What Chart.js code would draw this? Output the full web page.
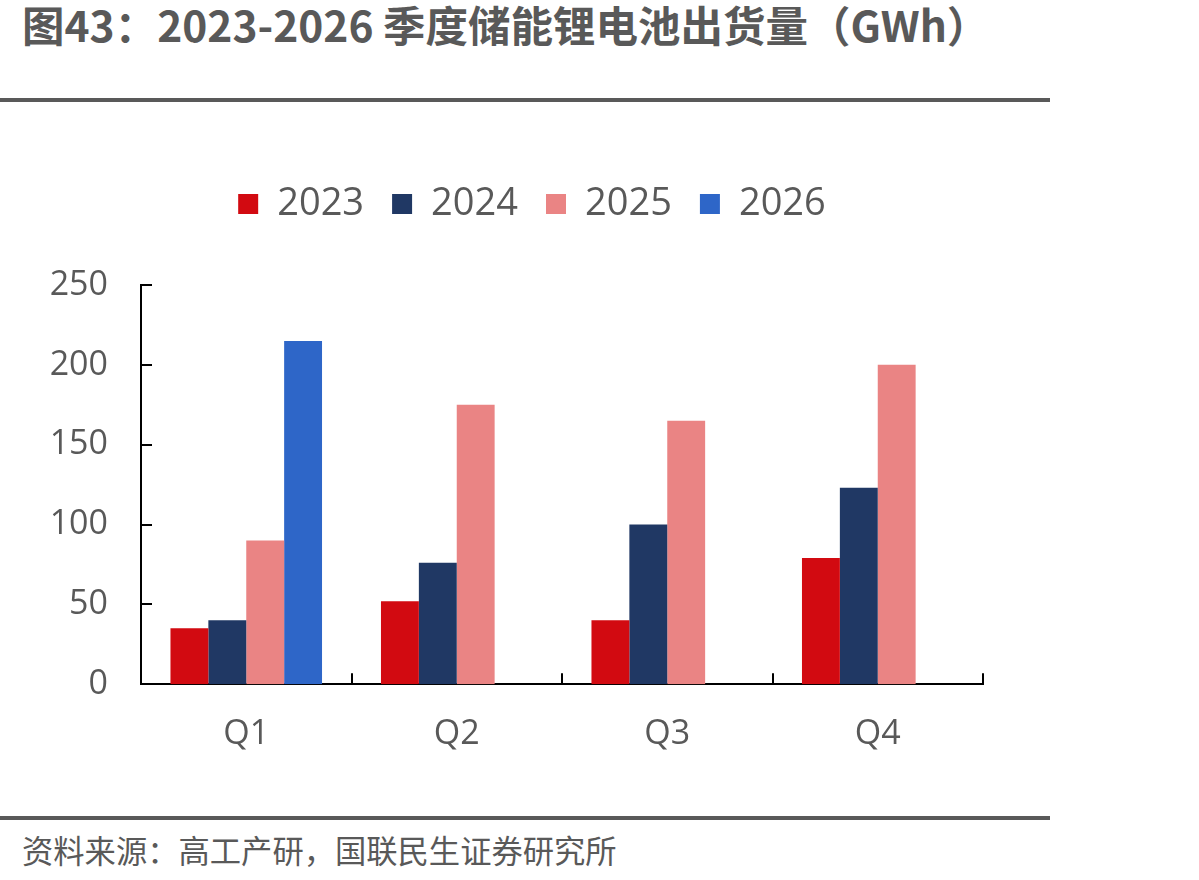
<!DOCTYPE html>
<html>
<head>
<meta charset="utf-8">
<script src="https://cdn.jsdelivr.net/npm/chart.js@4.4.1/dist/chart.umd.min.js"></script>
<style>
  html, body { margin: 0; padding: 0; background: #fff; }
  #page { position: relative; width: 1199px; height: 880px; overflow: hidden; }
  #title {
    position: absolute; left: 22px; top: 3px; line-height: 42px;
    font-family: "Noto Sans CJK SC", sans-serif; font-weight: bold;
    font-size: 42.5px; color: #595959; white-space: nowrap;
  }
  .rule { position: absolute; left: 0; width: 1050px; height: 4px; background: #595959; }
  #source {
    position: absolute; left: 22px; top: 827px;
    font-family: "Noto Sans CJK SC", sans-serif;
    font-size: 31.3px; color: #595959; white-space: nowrap;
  }
  #wrap { position: absolute; left: 0; top: 157px; width: 1060px; height: 620px; }
</style>
</head>
<body>
<div id="page">
  <div id="title">图43：2023-2026 季度储能锂电池出货量（GWh）</div>
  <div class="rule" style="top:98px"></div>
  <div id="wrap"><canvas id="myChart"></canvas></div>
  <div class="rule" style="top:816px"></div>
  <div id="source">资料来源：高工产研，国联民生证券研究所</div>
</div>
<script>
const quarters = ['Q1', 'Q2', 'Q3', 'Q4'];
const years = ['2023', '2024', '2025', '2026'];
const s2023 = [35, 52, 40, 79];
const s2024 = [40, 76, 100, 123];
const s2025 = [90, 175, 165, 200];
const s2026 = [215, null, null, null];
const yTicks = [0, 50, 100, 150, 200, 250];

const colors = ['#D20A11', '#203864', '#EA8484', '#2E66C8'];
const series = [s2023, s2024, s2025, s2026];

// ticks point into the plot area in the original
const innerTicks = {
  id: 'innerTicks',
  afterDatasetsDraw(chart) {
    const ctx = chart.ctx;
    const x = chart.scales.x, y = chart.scales.y;
    const area = chart.chartArea;
    ctx.save();
    ctx.strokeStyle = '#000';
    ctx.lineWidth = 2;
    ctx.beginPath();
    y.ticks.forEach(t => {
      const py = Math.round(y.getPixelForValue(t.value));
      ctx.moveTo(area.left, py);
      ctx.lineTo(area.left + 11, py);
    });
    const step = (x.right - x.left) / quarters.length;
    for (let i = 0; i <= quarters.length; i++) {
      const px = Math.round(x.left + i * step);
      ctx.moveTo(px, area.bottom);
      ctx.lineTo(px, area.bottom - 11);
    }
    ctx.stroke();
    ctx.restore();
  }
};

// extra room under the legend, and centre it a bit further right
const legendGap = {
  id: 'legendGap',
  beforeInit(chart) {
    const fit = chart.legend.fit;
    chart.legend.fit = function () {
      fit.call(this);
      this.height += 52;
    };
  },
  afterLayout(chart) {
    chart.legend.left += 81;
  }
};

const ctx = document.getElementById('myChart').getContext('2d');
new Chart(ctx, {
  type: 'bar',
  data: {
    labels: quarters,
    datasets: years.map((yr, i) => ({
      label: yr,
      data: series[i],
      backgroundColor: colors[i],
      borderWidth: 0,
      categoryPercentage: 0.72,
      barPercentage: 1.0
    }))
  },
  options: {
    responsive: true,
    maintainAspectRatio: false,
    animation: false,
    layout: { padding: { left: 0, right: 77, top: 0, bottom: 0 } },
    plugins: {
      legend: {
        position: 'top',
        labels: {
          boxWidth: 20,
          boxHeight: 20,
          padding: 28,
          color: '#595959',
          font: { family: 'Open Sans', size: 38 }
        }
      },
      tooltip: { enabled: false }
    },
    scales: {
      x: {
        grid: { display: false },
        border: { color: '#000', width: 2 },
        ticks: { color: '#595959', font: { family: 'Open Sans', size: 34 }, padding: 22 }
      },
      y: {
        min: 0,
        max: 250,
        grid: { display: false },
        border: { color: '#000', width: 2 },
        afterBuildTicks: scale => { scale.ticks = yTicks.map(v => ({ value: v })); },
        afterFit: scale => { scale.width = 141; },
        ticks: { color: '#595959', font: { family: 'Open Sans', size: 34 }, padding: 25 }
      }
    }
  },
  plugins: [innerTicks, legendGap]
});
</script>
</body>
</html>
